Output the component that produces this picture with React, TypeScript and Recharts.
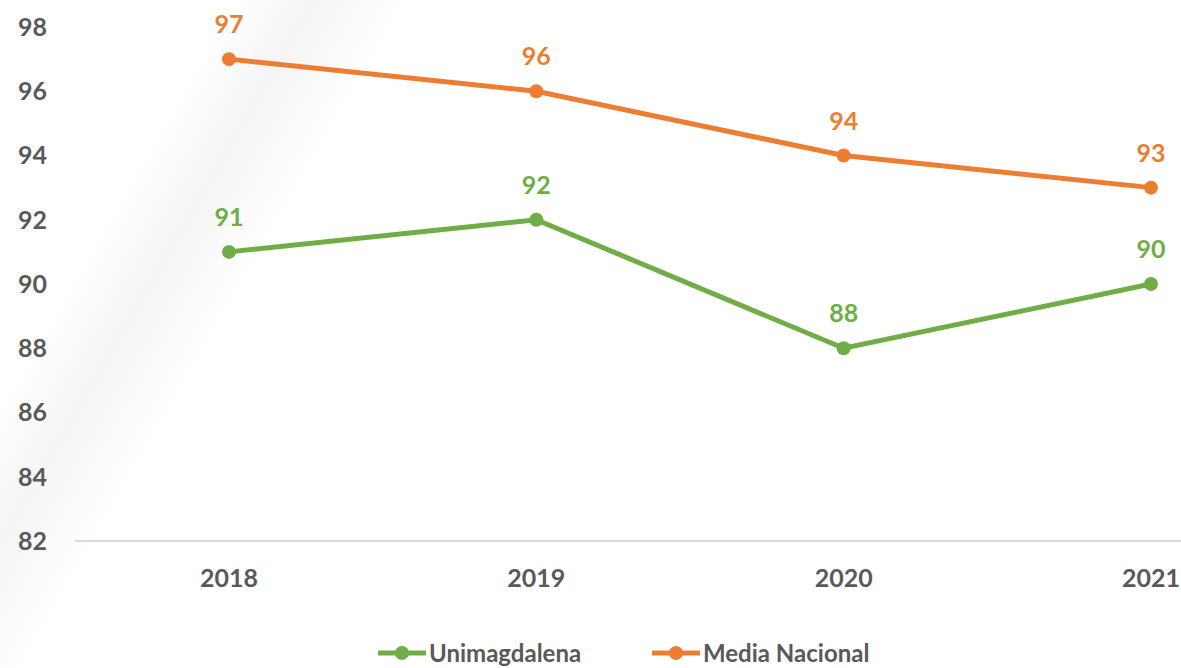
import React from "react";
import { LineChart, Line, XAxis, YAxis, LabelList, Legend } from "recharts";

const years = ["2018", "2019", "2020", "2021"];
const unimagdalena = [91, 92, 88, 90];
const mediaNacional = [97, 96, 94, 93];
const yTicks = [82, 84, 86, 88, 90, 92, 94, 96, 98];

const GREEN = "#70AD47";
const ORANGE = "#ED7D31";
const GRAY = "#595959";
const FONT = "Lato, 'Open Sans', sans-serif";

const data = years.map((y, i) => ({
  year: y,
  Unimagdalena: unimagdalena[i],
  "Media Nacional": mediaNacional[i],
}));

const LegendIcon = ({ color }: { color: string }) => (
  <svg width={48} height={16} style={{ display: "block" }}>
    <line x1={1} y1={8} x2={47} y2={8} stroke={color} strokeWidth={5} strokeLinecap="round" />
    <circle cx={24} cy={8} r={7} fill={color} />
  </svg>
);

const renderLegend = () => (
  <div
    style={{
      height: 67,
      display: "flex",
      alignItems: "flex-end",
      paddingLeft: 378,
      boxSizing: "border-box",
      fontFamily: FONT,
      fontWeight: 700,
      fontSize: 24,
      color: GRAY,
    }}
  >
    <div style={{ display: "flex", alignItems: "center", height: 30, width: 274 }}>
      <LegendIcon color={GREEN} />
      <span style={{ marginLeft: 3, lineHeight: "30px" }}>Unimagdalena</span>
    </div>
    <div style={{ display: "flex", alignItems: "center", height: 30 }}>
      <LegendIcon color={ORANGE} />
      <span style={{ marginLeft: 3, lineHeight: "30px" }}>Media Nacional</span>
    </div>
  </div>
);

export default function App() {
  return (
    <div
      style={{
        width: 1181,
        height: 668,
        position: "relative",
        background:
          "linear-gradient(120deg, #ffffff 0%, #ffffff 15%, #f5f5f5 20%, #ffffff 26%, #ffffff 100%)",
      }}
    >
      <style>{`body{margin:0;}`}</style>
      <LineChart
        width={1181}
        height={668}
        data={data}
        margin={{ top: 27, right: 0, bottom: 0, left: 0 }}
      >
        <XAxis
          dataKey="year"
          padding={{ left: 154, right: 30 }}
          axisLine={{ stroke: "#D9D9D9", strokeWidth: 2 }}
          tickLine={false}
          tickSize={0}
          tickMargin={28}
          height={60}
          tick={{ fill: GRAY, fontFamily: FONT, fontWeight: 700, fontSize: 25 }}
        />
        <YAxis
          domain={[82, 98]}
          ticks={yTicks}
          axisLine={false}
          tickLine={false}
          tickSize={0}
          tickMargin={28}
          width={75}
          interval={0}
          tick={{ fill: GRAY, fontFamily: FONT, fontWeight: 700, fontSize: 25 }}
        />
        <Legend verticalAlign="bottom" height={67} content={renderLegend} />
        <Line
          type="linear"
          dataKey="Unimagdalena"
          stroke={GREEN}
          strokeWidth={5}
          dot={{ r: 7, fill: GREEN, stroke: "none" }}
          isAnimationActive={false}
        >
          <LabelList
            dataKey="Unimagdalena"
            position="top"
            offset={26}
            fill={GREEN}
            style={{ fontFamily: FONT, fontWeight: 700, fontSize: 25 }}
          />
        </Line>
        <Line
          type="linear"
          dataKey="Media Nacional"
          stroke={ORANGE}
          strokeWidth={5}
          dot={{ r: 7, fill: ORANGE, stroke: "none" }}
          isAnimationActive={false}
        >
          <LabelList
            dataKey="Media Nacional"
            position="top"
            offset={26}
            fill={ORANGE}
            style={{ fontFamily: FONT, fontWeight: 700, fontSize: 25 }}
          />
        </Line>
      </LineChart>
    </div>
  );
}
